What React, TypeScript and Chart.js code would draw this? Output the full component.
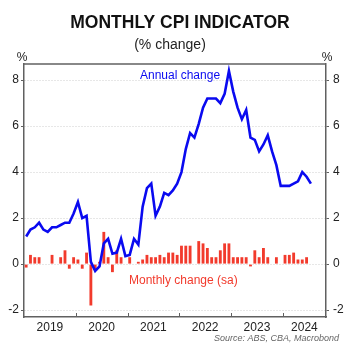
import React, { useEffect, useRef } from "react";
import { Chart, registerables } from "chart.js";

Chart.register(...registerables);

// Months indexed from Jan 2019 (0)
const annualChange: number[] = [
  1.2, 1.5, 1.6, 1.8, 1.5, 1.4, 1.6, 1.6, 1.7, 1.8, 1.8, 2.2, // 2019
  2.7, 2.0, 2.1, 0.1, -0.3, -0.1, 0.9, 1.1, 0.45, 0.5, 1.1, 0.35, // 2020
  0.4, 1.1, 0.85, 2.5, 3.3, 3.5, 2.1, 2.5, 3.1, 3.0, 3.2, 3.5, // 2021
  4.0, 5.0, 5.7, 5.5, 6.1, 6.8, 7.2, 7.2, 7.2, 7.0, 7.4, 8.4, // 2022
  7.5, 6.8, 6.3, 6.7, 5.5, 5.4, 4.9, 5.2, 5.6, 4.9, 4.3, 3.4, // 2023
  3.4, 3.4, 3.5, 3.6, 4.0, 3.8, 3.5, // 2024
];

const monthlyChange: number[] = [
  -0.15, 0.4, 0.3, 0.3, 0, 0, 0.4, 0, 0.3, 0.6, -0.2, 0.3, // 2019
  0.2, -0.2, 0.5, -1.8, -0.25, 0.1, 1.4, 0.3, -0.35, 0.6, 0.3, 0, // 2020
  0.3, 0, 0.1, 0.2, 0.4, 0.3, 0.3, 0.4, 0.3, 0.5, 0.5, 0.4, // 2021
  0.8, 0.8, 0.8, 0, 1.0, 0.9, 0.7, 0.3, 0.3, 0.6, 0.9, 0.9, // 2022
  0.3, 0.3, 0.3, 0.3, -0.1, 0.6, 0.3, 0.7, 0.3, 0, 0.3, 0, // 2023
  0.4, 0.4, 0.5, 0.2, 0.2, 0.3, // 2024
];

const yearLabels: string[] = ["2019", "2020", "2021", "2022", "2023", "2024"];
const yearLabelPositions: number[] = [5.5, 17.5, 29.5, 41.5, 53.5, 64.5];
const yearBoundaries: number[] = [11.5, 23.5, 35.5, 47.5, 59.5];
const yTicks: number[] = [-2, 0, 2, 4, 6, 8];

const FONT = "'Liberation Sans', Arial, Helvetica, sans-serif";
const AXIS_COLOR = "#606060";
const BLUE = "#0a0af0";
const RED = "#f23a2c";

const textPlugin = {
  id: "textPlugin",
  afterDraw(chart: any) {
    const ctx = chart.ctx;
    const area = chart.chartArea;
    const xs = chart.scales.x;
    ctx.save();
    // top border
    ctx.strokeStyle = AXIS_COLOR;
    ctx.lineWidth = 1.5;
    ctx.beginPath();
    ctx.moveTo(area.left, area.top);
    ctx.lineTo(area.right, area.top);
    ctx.stroke();
    // year boundary ticks (inward)
    ctx.lineWidth = 1;
    yearBoundaries.forEach((v) => {
      const px = Math.round(xs.getPixelForValue(v)) + 0.5;
      ctx.beginPath();
      ctx.moveTo(px, area.bottom);
      ctx.lineTo(px, area.bottom - 4);
      ctx.stroke();
    });
    // titles
    ctx.textAlign = "center";
    ctx.textBaseline = "middle";
    ctx.fillStyle = "#111";
    ctx.font = `bold 17.5px ${FONT}`;
    ctx.fillText("MONTHLY CPI INDICATOR", 180, 23);
    ctx.font = `14px ${FONT}`;
    ctx.fillStyle = "#222";
    ctx.fillText("(% change)", 170, 45);
    ctx.font = `12px ${FONT}`;
    ctx.fillText("%", 22, 58);
    ctx.fillText("%", 327, 58);
    // series labels
    ctx.textAlign = "left";
    ctx.fillStyle = BLUE;
    ctx.fillText("Annual change", 140, 76);
    ctx.fillStyle = RED;
    ctx.fillText("Monthly change (sa)", 129, 281);
    // source
    ctx.textAlign = "right";
    ctx.fillStyle = "#666";
    ctx.font = `italic 9px ${FONT}`;
    ctx.fillText("Source: ABS, CBA, Macrobond", 339, 338);
    ctx.restore();
  },
};

export default function App() {
  const canvasRef = useRef<HTMLCanvasElement | null>(null);

  useEffect(() => {
    if (!canvasRef.current) return;
    const lineData = annualChange.map((v, i) => ({ x: i, y: v }));
    const barData = monthlyChange.map((v, i) => ({ x: i, y: v }));
    const yCommon = {
      type: "linear" as const,
      min: -2.3,
      max: 8.7,
      afterBuildTicks: (scale: any) => {
        scale.ticks = yTicks.map((v) => ({ value: v }));
      },
    };
    const chart = new Chart(canvasRef.current, {
      type: "bar",
      data: {
        datasets: [
          {
            type: "line",
            label: "Annual change",
            data: lineData,
            borderColor: BLUE,
            borderWidth: 2.6,
            pointRadius: 0,
            tension: 0,
            fill: false,
            order: 0,
            xAxisID: "x",
            yAxisID: "y",
          } as any,
          {
            type: "bar",
            label: "Monthly change (sa)",
            data: barData,
            backgroundColor: RED,
            borderWidth: 0,
            barPercentage: 0.66,
            categoryPercentage: 1,
            order: 1,
            xAxisID: "x",
            yAxisID: "y",
          } as any,
        ],
      },
      options: {
        animation: false,
        responsive: true,
        maintainAspectRatio: false,
        layout: { padding: { left: 0, right: 0, top: 64, bottom: 0 } },
        plugins: {
          legend: { display: false },
          tooltip: { enabled: false },
          title: { display: false },
        },
        scales: {
          x: {
            type: "linear",
            position: "bottom",
            min: -0.5,
            max: 69.5,
            offset: false,
            afterBuildTicks: (scale: any) => {
              scale.ticks = yearLabelPositions.map((v) => ({ value: v }));
            },
            afterFit: (scale: any) => {
              scale.height = 35;
            },
            ticks: {
              autoSkip: false,
              maxRotation: 0,
              minRotation: 0,
              padding: 3,
              color: "#222",
              font: { family: FONT, size: 12 },
              callback: (_v: any, i: number) => yearLabels[i],
            },
            grid: { display: false, drawTicks: false, offset: false },
            border: { display: true, color: AXIS_COLOR, width: 1.5 },
          },
          y: {
            ...yCommon,
            position: "left",
            afterFit: (scale: any) => {
              scale.width = 24;
            },
            ticks: {
              padding: 2,
              color: "#222",
              font: { family: FONT, size: 12 },
              callback: (v: any) => String(v),
            },
            grid: {
              display: true,
              drawOnChartArea: true,
              color: "#cfcfcf",
              lineWidth: 1,
              drawTicks: true,
              tickLength: 3,
              tickColor: AXIS_COLOR,
              tickWidth: 1,
            },
            border: { display: true, color: AXIS_COLOR, width: 1.5, dash: [1, 2] },
          },
          y2: {
            ...yCommon,
            position: "right",
            afterFit: (scale: any) => {
              scale.width = 34;
            },
            ticks: {
              padding: 4,
              crossAlign: "near",
              color: "#222",
              font: { family: FONT, size: 12 },
              callback: (v: any) => String(v),
            },
            grid: {
              display: true,
              drawOnChartArea: false,
              drawTicks: true,
              tickLength: 3,
              tickColor: AXIS_COLOR,
              tickWidth: 1,
            },
            border: { display: true, color: AXIS_COLOR, width: 1.5 },
          },
        },
      } as any,
      plugins: [textPlugin],
    });
    return () => chart.destroy();
  }, []);

  return (
    <div style={{ position: "fixed", left: 0, top: 0, width: 360, height: 352, background: "#fff" }}>
      <canvas ref={canvasRef} />
    </div>
  );
}
